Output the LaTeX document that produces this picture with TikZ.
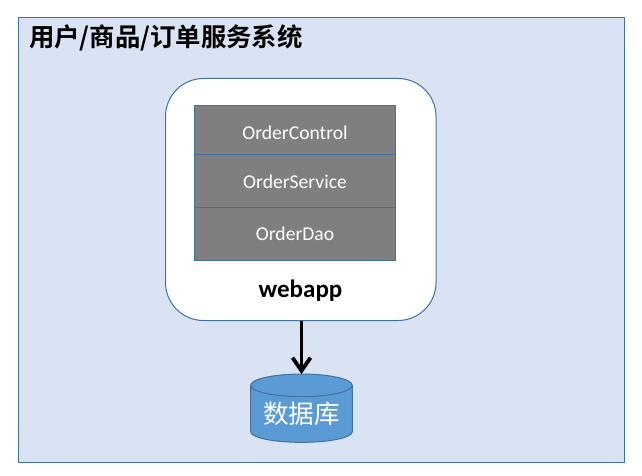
\documentclass[tikz,border=0pt]{standalone}
\usepackage{fontspec}
\setmainfont{Carlito}
\newfontfamily\cjk{Noto Sans CJK SC}
\newfontfamily\cjkb{Noto Sans CJK SC Bold}
\usetikzlibrary{arrows.meta,calc}
\definecolor{edgeblue}{HTML}{41719C}
\definecolor{panelblue}{HTML}{DAE3F3}
\definecolor{layergray}{HTML}{7F7F7F}
\definecolor{dbblue}{HTML}{5B9BD5}
\tikzset{
  every node/.style={inner sep=0pt,outer sep=0pt},
  panel/.style={draw=edgeblue,fill=panelblue,line width=1pt,minimum width=606pt,minimum height=444.5pt},
  appbox/.style={draw=edgeblue,fill=white,line width=1pt,rounded corners=38pt,minimum width=270.5pt,minimum height=242pt},
  layerbox/.style={draw=edgeblue,fill=layergray,line width=0.9pt,minimum width=201pt},
  layertext/.style={text=white,font=\fontsize{19.6}{22}\selectfont},
  dbbody/.style={draw=edgeblue,fill=dbblue,line width=1pt},
  flow/.style={draw=black,line width=3.8pt,-{Straight Barb[length=13pt,width=18pt,line width=3.8pt]}}
}
\begin{document}
\begin{tikzpicture}[x=1pt,y=-1pt]
\useasboundingbox (0,0) rectangle (642,476);
\node[panel] (sys) at (321.5,239.75) {};
\node[anchor=west] (title) at (29,38) {\fontsize{25.4}{28}\selectfont\cjkb 用户/商品/订单服务系统};
\node[appbox] (app) at (300.75,199.5) {};
\node[layerbox,minimum height=49pt] (ctl) at (295,130) {};
\node[layerbox,minimum height=53pt] (svc) at (295,181) {};
\node[layerbox,minimum height=52.5pt] (dao) at (295,233.75) {};
\node[layertext] (ctlt) at (295,133) {OrderControl};
\node[layertext] (svct) at (295,182) {OrderService};
\node[layertext] (daot) at (295,234) {OrderDao};
\node[font=\fontsize{25}{28}\selectfont\bfseries] (web) at (300.5,291) {webapp};
\node[minimum width=101.6pt,minimum height=68.3pt] (db) at (301.5,408.2) {};
\path[dbbody] (db.north west) ++(0,11.3) -- ($(db.south west)+(0,-10.6)$)
  .. controls ($(db.south west)+(0,-4.7)$) and ($(db.south)+(-28,0)$) .. (db.south)
  .. controls ($(db.south)+(28,0)$) and ($(db.south east)+(0,-4.7)$) .. ($(db.south east)+(0,-10.6)$)
  -- ($(db.north east)+(0,11.3)$) -- cycle;
\path[dbbody] ($(db.north)+(0,11.3)$) ellipse (50.8 and 11.3);
\node[text=white] (dbt) at (301.5,414) {\fontsize{25.6}{28}\selectfont\cjk 数据库};
\draw[flow] (app.south -| db.north) -- (db.north);
\end{tikzpicture}
\end{document}
